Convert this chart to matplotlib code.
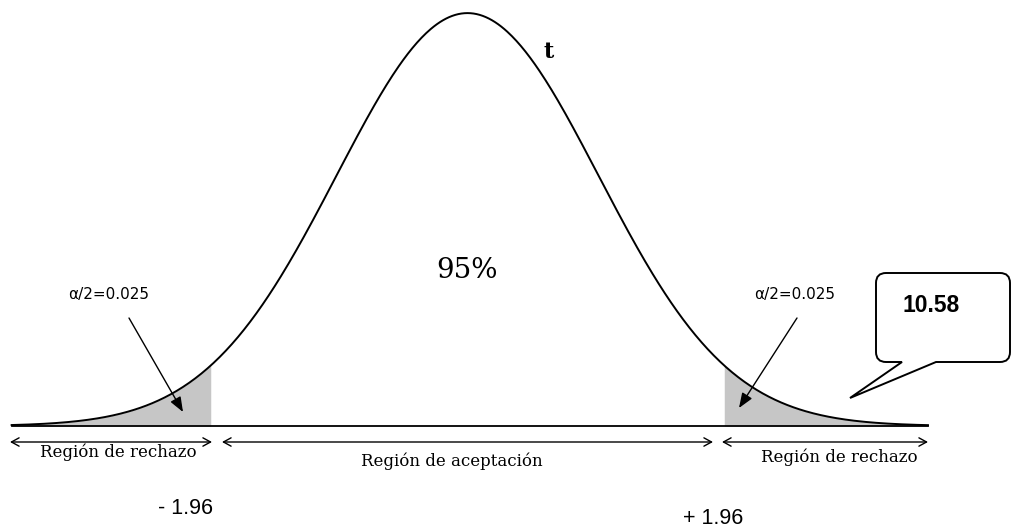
import numpy as np
import matplotlib
matplotlib.use("Agg")
import matplotlib.pyplot as plt
from matplotlib.patches import FancyArrowPatch, PathPatch
from matplotlib.path import Path

# ---- data ----
mu = 0.0
sigma = 1.0
z_crit = [-1.96, 1.96]
crit_labels = ["- 1.96", "+ 1.96"]
z_range = [-3.48, 3.515]
region_labels = ["Región de rechazo", "Región de aceptación", "Región de rechazo"]
alpha_labels = ["α/2=0.025", "α/2=0.025"]
center_label = "95%"
dist_label = "t"
callout_value = "10.58"

W, H = 1011, 531
fig = plt.figure(figsize=(W / 100, H / 100), dpi=100)

# pixel <-> data mapping (layout)
X0, XS = 467.5, 131.0
Y0, YS = 426.0, 1035.0
ax = fig.add_axes([0, 0, 1, 1])
ax.set_xlim((0 - X0) / XS, (W - X0) / XS)
ax.set_ylim((Y0 - H) / YS, (Y0 - 0) / YS)
ax.axis("off")


def density(v):
    return np.exp(-0.5 * ((v - mu) / sigma) ** 2) / (sigma * np.sqrt(2 * np.pi))


z = np.linspace(z_range[0], z_range[1], 600)
pdf = density(z)

# shaded tails
zl = np.append(z[z <= z_crit[0]], z_crit[0])
zr = np.insert(z[z >= z_crit[1]], 0, z_crit[1])
ax.fill_between(zl, 0, density(zl), color="#c6c6c6", lw=0)
ax.fill_between(zr, 0, density(zr), color="#c6c6c6", lw=0)

ax.plot(z, pdf, color="black", lw=1.4)
ax.plot([z_range[0], z_range[1]], [0, 0], color="black", lw=1.3)

# overlay axes in pixel coordinates for annotations
ov = fig.add_axes([0, 0, 1, 1])
ov.set_xlim(0, W)
ov.set_ylim(H, 0)
ov.axis("off")
ov.patch.set_alpha(0)

serif = "DejaVu Serif"
sans = "Liberation Sans"

# region arrows
arrow_spans = [(10, 212), (222, 713), (722, 928)]
for (a, b) in arrow_spans:
    ov.add_patch(FancyArrowPatch((a, 442), (b, 442),
                                 arrowstyle="<->,head_length=0.55,head_width=0.3",
                                 mutation_scale=10, lw=1.0, color="black",
                                 shrinkA=0, shrinkB=0))
label_pos = [(118, 452), (452, 461), (839, 457)]
for lab, (x, y) in zip(region_labels, label_pos):
    ov.text(x, y, lab, ha="center", va="center", fontsize=12, family=serif)

# critical values
crit_pos = [(185, 509), (713, 519)]
for lab, (x, y) in zip(crit_labels, crit_pos):
    ov.text(x, y, lab, ha="center", va="center", fontsize=15.5, family=sans)

# alpha labels and pointer arrows
alpha_pos = [(109, 294), (795, 294)]
for lab, (x, y) in zip(alpha_labels, alpha_pos):
    ov.text(x, y, lab, ha="center", va="center", fontsize=11, family="DejaVu Sans")
pointers = [((129, 318), (183, 412)), ((797, 318), (739, 408))]
for (s, e) in pointers:
    ov.add_patch(FancyArrowPatch(s, e, arrowstyle="-|>,head_length=0.9,head_width=0.35",
                                 mutation_scale=10, lw=1.0, color="black",
                                 shrinkA=0, shrinkB=0))

# center and distribution labels
ov.text(467, 270, center_label, ha="center", va="center", fontsize=20, family=serif)
ov.text(549, 52, dist_label, ha="center", va="center", fontsize=16, family=serif,
        fontweight="bold")

# callout bubble
x0, x1, y0, y1, r = 876, 1010, 273, 362, 10
verts = [
    (x0 + r, y0), (x1 - r, y0), (x1, y0), (x1, y0 + r), (x1, y1 - r), (x1, y1), (x1 - r, y1),
    (936, y1), (850, 398), (902, y1), (x0 + r, y1), (x0, y1), (x0, y1 - r), (x0, y0 + r),
    (x0, y0), (x0 + r, y0), (x0 + r, y0),
]
codes = [Path.MOVETO, Path.LINETO, Path.CURVE3, Path.CURVE3, Path.LINETO, Path.CURVE3, Path.CURVE3,
         Path.LINETO, Path.LINETO, Path.LINETO, Path.LINETO, Path.CURVE3, Path.CURVE3, Path.LINETO,
         Path.CURVE3, Path.CURVE3, Path.CLOSEPOLY]
ov.add_patch(PathPatch(Path(verts, codes), facecolor="white", edgecolor="black", lw=1.4))
ov.text(902, 305, callout_value, ha="left", va="center", fontsize=16.5, family=sans,
        fontweight="bold")

fig.savefig("out.png", dpi=100)
